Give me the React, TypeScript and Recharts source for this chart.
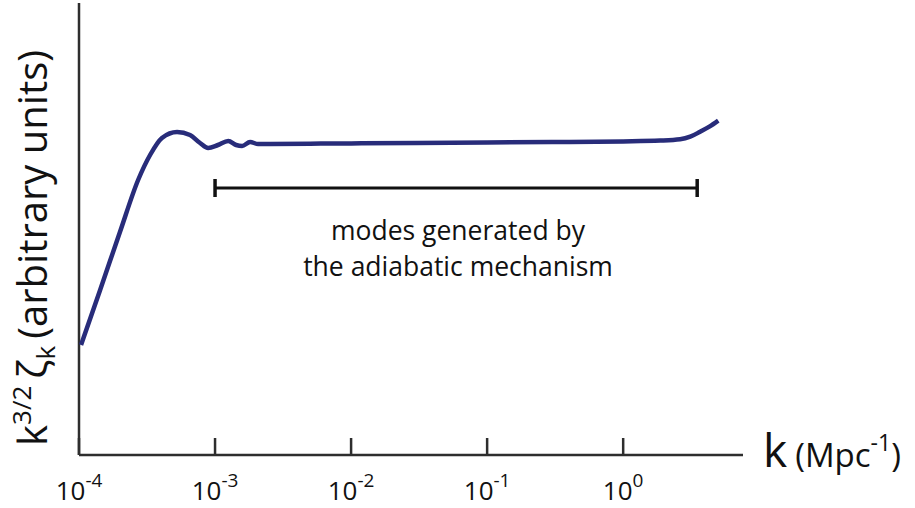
import { LineChart, Line, XAxis, YAxis, ReferenceLine } from 'recharts';

// wavenumber k (Mpc^-1) and the curve height (arbitrary units)
const kValues = [
  1.035e-4, 1.43e-4, 2.0e-4, 2.72e-4, 3.33e-4, 4.07e-4, 5.26e-4, 6.55e-4, 7.76e-4, 8.89e-4,
  1.05e-3, 1.25e-3, 1.43e-3, 1.58e-3, 1.81e-3, 2.07e-3, 2.54e-3, 5e-3, 1e-2, 3e-2,
  1e-1, 3e-1, 1.0, 1.87, 2.62, 3.11, 3.68, 4.3, 5.0,
];
const curveValues = [
  110, 165, 223, 275, 300, 317, 323, 320, 312, 307,
  310, 314, 310, 309, 313, 311, 311, 311.3, 311.6, 312,
  312.5, 313, 313.6, 314.4, 315.7, 318.3, 323.3, 328.3, 334.3,
];

const xTicks = [1e-4, 1e-3, 1e-2, 1e-1, 1];
const xDomain = [1e-4, 7.6];
const yDomain = [0, 452];

// bracket spanning the adiabatic modes
const bracketStart = 1e-3;
const bracketEnd = 3.5;
const bracketLevel = 267;
const capHalf = 9;

const noteLines = ['modes generated by', 'the adiabatic mechanism'];

const data = kValues.map((k, i) => ({ k, v: curveValues[i] }));

const font = '"Open Sans", "Liberation Sans", sans-serif';
const axisColor = '#2e2e2e';
const lineColor = '#282c7a';

const plot = { left: 79, top: 3, right: 743, bottom: 455 };

function PowerTick(props: any) {
  const { x, payload } = props;
  const exp = Math.round(Math.log10(payload.value));
  return (
    <g>
      <line
        x1={x}
        x2={x}
        y1={plot.bottom - 17}
        y2={plot.bottom}
        stroke={axisColor}
        strokeWidth={2.5}
      />
      <text
        x={x}
        y={plot.bottom + 45}
        textAnchor="middle"
        fontFamily={font}
        fontSize={26}
        fill="#111"
      >
        <tspan>10</tspan>
        <tspan dy={-13} fontSize={19}>
          {exp}
        </tspan>
      </text>
    </g>
  );
}

export default function App() {
  return (
    <div style={{ position: 'absolute', left: 0, top: 0, width: 915, height: 508, background: '#fff' }}>
      <LineChart
        width={915}
        height={508}
        data={data}
        margin={{ top: plot.top, left: plot.left, right: 915 - plot.right, bottom: 0 }}
      >
        <XAxis
          dataKey="k"
          type="number"
          scale="log"
          domain={xDomain}
          ticks={xTicks}
          allowDataOverflow
          axisLine={{ stroke: axisColor, strokeWidth: 2.5 }}
          tickLine={false}
          tickSize={0}
          tick={<PowerTick />}
          height={508 - plot.bottom}
          interval={0}
        />
        <YAxis type="number" domain={yDomain} hide />
        <ReferenceLine x={1e-4} stroke={axisColor} strokeWidth={2.5} />
        <ReferenceLine
          segment={[
            { x: bracketStart, y: bracketLevel },
            { x: bracketEnd, y: bracketLevel },
          ]}
          stroke="#111"
          strokeWidth={3}
        />
        <ReferenceLine
          segment={[
            { x: bracketStart, y: bracketLevel - capHalf },
            { x: bracketStart, y: bracketLevel + capHalf },
          ]}
          stroke="#111"
          strokeWidth={3.5}
        />
        <ReferenceLine
          segment={[
            { x: bracketEnd, y: bracketLevel - capHalf },
            { x: bracketEnd, y: bracketLevel + capHalf },
          ]}
          stroke="#111"
          strokeWidth={3.5}
        />
        <Line
          dataKey="v"
          type="monotone"
          stroke={lineColor}
          strokeWidth={4.5}
          dot={false}
          isAnimationActive={false}
        />
      </LineChart>
      <svg
        width={915}
        height={508}
        style={{ position: 'absolute', left: 0, top: 0, pointerEvents: 'none' }}
      >
        {noteLines.map((t, i) => (
          <text
            key={t}
            x={458}
            y={240 + i * 36}
            textAnchor="middle"
            fontFamily={font}
            fontSize={26.5}
            fill="#111"
          >
            {t}
          </text>
        ))}
        <text x={763} y={467} fontFamily={font} fontSize={46} fill="#111">
          k
          <tspan fontSize={33} dx={8}>(Mpc</tspan>
          <tspan fontSize={23} dy={-16}>-1</tspan>
          <tspan fontSize={33} dy={16}>)</tspan>
        </text>
        <text
          transform="translate(47, 446) rotate(-90)"
          fontFamily={font}
          fontSize={40}
          fill="#111"
        >
          k
          <tspan fontSize={26} dy={-16}>3/2</tspan>
          <tspan dy={16} dx={7}>ζ</tspan>
          <tspan fontSize={26} dy={8}>k</tspan>
          <tspan dy={-8} dx={7}>(arbitrary units)</tspan>
        </text>
      </svg>
    </div>
  );
}
